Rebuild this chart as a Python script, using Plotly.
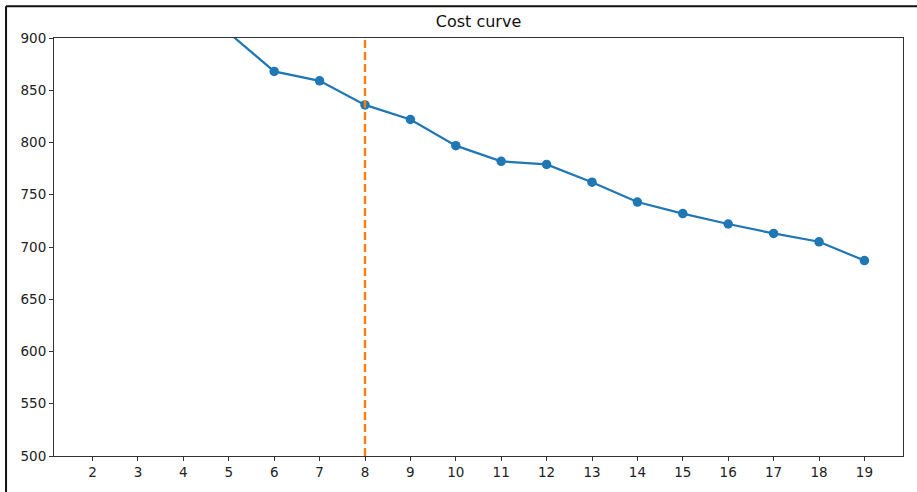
import plotly.graph_objects as go

# Data
k_values = [2, 3, 4, 5, 6, 7, 8, 9, 10, 11, 12, 13, 14, 15, 16, 17, 18, 19]
cost = [1200, 1060, 970, 905, 868, 859, 836, 822, 797, 782, 779, 762, 743, 732, 722, 713, 705, 687]
chosen_k = 8
y_ticks = [500, 550, 600, 650, 700, 750, 800, 850, 900]
title_text = "Cost curve"

fig = go.Figure()
fig.add_trace(go.Scatter(
    x=k_values, y=cost, mode="lines+markers",
    line=dict(color="#1f77b4", width=2.2),
    marker=dict(color="#1f77b4", size=9.5),
    cliponaxis=True, showlegend=False,
))
fig.add_shape(type="line", xref="x", yref="paper", x0=chosen_k, x1=chosen_k, y0=0, y1=1,
              line=dict(color="#ff7f0e", width=2.4, dash="8px,4px"))
# outer frame (screenshot border on left/top)
fig.add_shape(type="line", xref="paper", yref="paper", x0=-0.0565, x1=1.0165, y0=1.076, y1=1.076,
              line=dict(color="#111111", width=2))
fig.add_shape(type="line", xref="paper", yref="paper", x0=-0.0565, x1=-0.0565, y0=-0.1, y1=1.076,
              line=dict(color="#111111", width=2))

axis_common = dict(
    showgrid=False, zeroline=False, showline=True, linecolor="#333333", linewidth=1,
    mirror=True, ticks="outside", ticklen=4, tickcolor="#333333", tickwidth=1,
    tickfont=dict(family="DejaVu Sans", size=13.5, color="#222222"),
)
fig.update_xaxes(range=[1.15, 19.85], tickmode="array", tickvals=k_values,
                 ticktext=[str(k) for k in k_values], **axis_common)
fig.update_yaxes(range=[500, 900], tickmode="array", tickvals=y_ticks,
                 ticktext=[str(v) for v in y_ticks], **axis_common)

fig.update_layout(
    width=917, height=492,
    margin=dict(l=54, r=14, t=38, b=32),
    paper_bgcolor="white", plot_bgcolor="white",
    title=dict(text=title_text, x=0.5, xref="paper", xanchor="center",
               y=0.945, yanchor="bottom", yref="container",
               font=dict(family="DejaVu Sans", size=16, color="#111111")),
)
fig.write_html("out.html", config={"displayModeBar": False},
               post_script="document.body.style.margin='0';document.body.style.overflow='hidden';")
